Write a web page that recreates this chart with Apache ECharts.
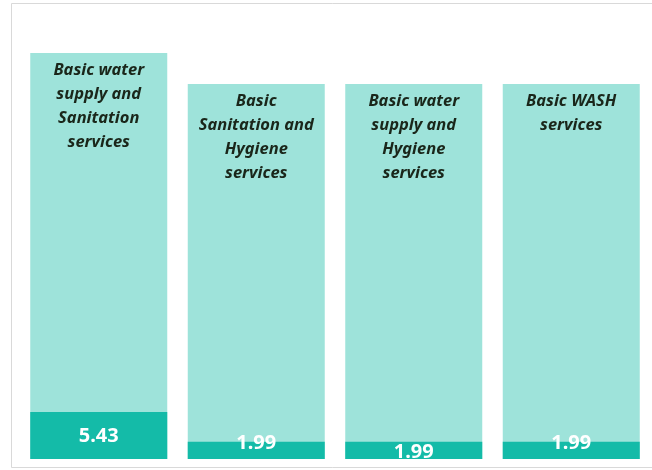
<!DOCTYPE html>
<html><head><meta charset="utf-8">
<script src="https://cdn.jsdelivr.net/npm/echarts@6/dist/echarts.min.js"></script>
<style>html,body{margin:0;padding:0;background:#fff}#c{width:652px;height:470px}</style>
</head><body><div id="c"></div>
<script>
const categories = [
  'Basic water\nsupply and\nSanitation\nservices',
  'Basic\nSanitation and\nHygiene\nservices',
  'Basic water\nsupply and\nHygiene\nservices',
  'Basic WASH\nservices'
];
const values = [5.43, 1.99, 1.99, 1.99];
const backgroundTotals = [47.0, 43.4, 43.4, 43.4];
const valueLabelOffsets = [[0, 1], [0, -7], [0, 2], [0, -7]];

const chart = echarts.init(document.getElementById('c'), null, {renderer: 'canvas'});
chart.setOption({
  animation: false,
  backgroundColor: '#ffffff',
  graphic: [{
    type: 'rect', silent: true, z: -10,
    shape: {x: 11.5, y: 3.5, width: 660, height: 464},
    style: {fill: 'none', stroke: '#d9d9d9', lineWidth: 1}
  }],
  grid: {left: 20, right: 2, top: 27, bottom: 11},
  xAxis: {
    type: 'category', data: categories,
    axisLine: {show: false}, axisTick: {show: false}, axisLabel: {show: false}
  },
  yAxis: {
    type: 'value', min: 0, max: 50,
    axisLine: {show: false}, axisTick: {show: false}, axisLabel: {show: false},
    splitLine: {show: false}
  },
  series: [
    {
      type: 'bar', barWidth: 137, barGap: '-100%', silent: true,
      data: backgroundTotals,
      itemStyle: {color: '#9ee3da'},
      label: {
        show: true, position: 'insideTop', distance: 5,
        formatter: p => categories[p.dataIndex],
        fontFamily: 'Noto Sans', fontWeight: 'bold', fontStyle: 'italic',
        fontSize: 16.5, lineHeight: 24, color: '#1a261a', align: 'center'
      },
      z: 1
    },
    {
      type: 'bar', barWidth: 137, barGap: '-100%',
      data: values.map((v, i) => ({value: v, label: {offset: valueLabelOffsets[i]}})),
      itemStyle: {color: '#14bba8'},
      label: {
        show: true, position: 'inside',
        fontFamily: 'Noto Sans', fontWeight: 'bold', fontSize: 20,
        color: '#ffffff'
      },
      z: 2
    }
  ]
});
</script></body></html>
